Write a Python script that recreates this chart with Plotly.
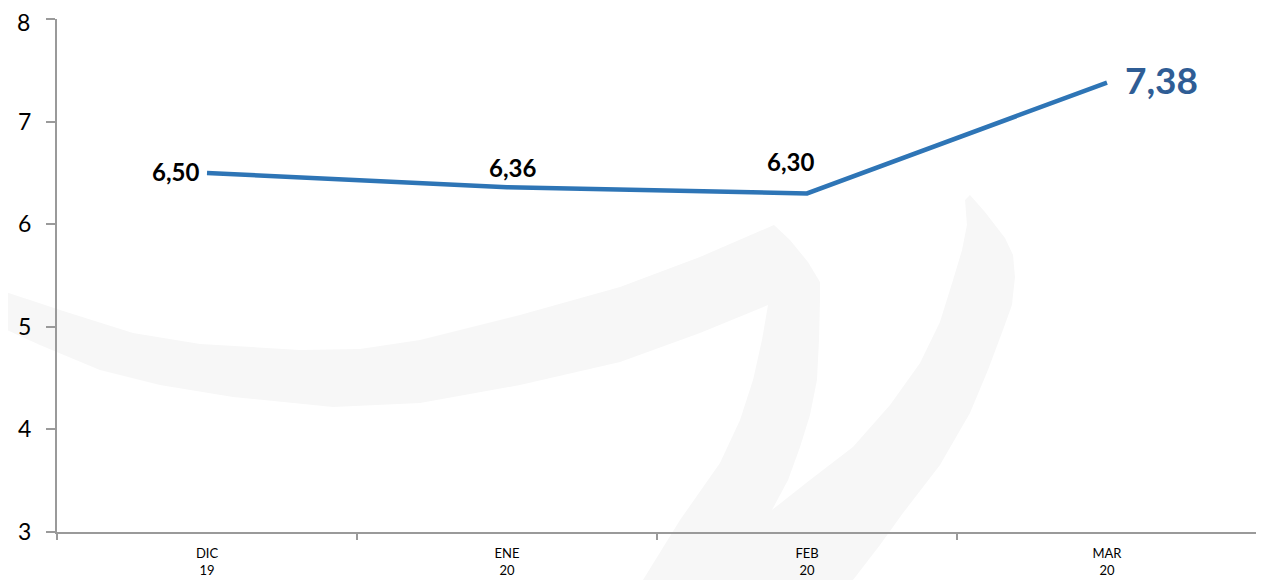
import plotly.graph_objects as go

# ---- data ----
months = ["DIC", "ENE", "FEB", "MAR"]
years = ["19", "20", "20", "20"]
values = [6.50, 6.36, 6.30, 7.38]
y_ticks = [3, 4, 5, 6, 7, 8]

categories = [f"{m}<br>{y}" for m, y in zip(months, years)]
labels = [f"{v:.2f}".replace(".", ",") for v in values]

# ---- styling ----
OFF = 8  # page body margin of the html
W, H = 1264 - OFF, 580 - OFF
ML, MR, MT, MB = 57 - OFF, 7, 19 - OFF, 48
LINE_COLOR = "#2e75b6"
FONT = "Lato"
TICK_SIZE = 23

# label placement per point (style only)
label_style = [
    dict(xanchor="right", yanchor="middle", xshift=-6, yshift=1, size=24, color="#000000"),
    dict(xanchor="center", yanchor="middle", xshift=5, yshift=20, size=24, color="#000000"),
    dict(xanchor="center", yanchor="middle", xshift=-17, yshift=32, size=24, color="#000000"),
    dict(xanchor="left", yanchor="middle", xshift=16, yshift=3, size=37, color="#2f5d95"),
]

fig = go.Figure()
fig.add_trace(go.Scatter(
    x=categories, y=values, mode="lines",
    line=dict(color=LINE_COLOR, width=4.5),
    hoverinfo="skip", showlegend=False,
))

for c, v, t, s in zip(categories, values, labels, label_style):
    fig.add_annotation(
        x=c, y=v, text=t, showarrow=False,
        xanchor=s["xanchor"], yanchor=s["yanchor"],
        xshift=s["xshift"], yshift=s["yshift"],
        font=dict(family=FONT, size=s["size"], color=s["color"], weight="bold"),
    )

# top y tick label drawn as annotation so it stays inside the page
fig.add_annotation(
    x=0, xref="paper", y=y_ticks[-1], yref="y", text=str(y_ticks[-1]),
    showarrow=False, xanchor="right", yanchor="top", xshift=-26, yshift=12,
    font=dict(family=FONT, size=TICK_SIZE, color="#000000"), borderpad=0,
)

# ---- faint background watermark (decorative, page-pixel outline -> paper coords) ----
pw, ph = W - ML - MR, H - MT - MB
def P(x, y):
    x -= OFF
    y -= OFF
    return f"{(x - ML) / pw:.4f},{(H - MB - y) / ph:.4f}"

outline = [
    (0, 290), (60, 310), (133, 333), (200, 344), (300, 350), (360, 349), (420, 340),
    (520, 315), (620, 287), (700, 257), (774, 225),
    (790, 240), (808, 262), (820, 282),
    (820, 300), (819, 340), (817, 380), (810, 415), (800, 447), (788, 480), (772, 510),
    (810, 480), (853, 447), (890, 405), (920, 363), (940, 322), (953, 280), (962, 250),
    (967, 225), (965, 200), (970, 195),
    (985, 212), (1005, 238), (1013, 255), (1015, 277), (1012, 305), (1003, 330), (988, 370),
    (970, 413), (940, 465), (903, 513), (880, 545), (853, 580),
    (643, 580),
    (680, 520), (720, 463), (740, 420), (753, 380), (762, 340), (768, 305),
    (700, 333), (620, 362), (520, 385), (420, 403), (333, 407), (233, 397),
    (160, 385), (100, 370), (40, 345), (0, 327),
]
path = "M " + " L ".join(P(x, y) for x, y in outline) + " Z"
fig.add_shape(type="path", path=path, xref="paper", yref="paper",
              fillcolor="#f7f7f7", line=dict(width=0), layer="below")

fig.update_layout(
    width=W, height=H,
    margin=dict(l=ML, r=MR, t=MT, b=MB, autoexpand=False),
    paper_bgcolor="white", plot_bgcolor="rgba(0,0,0,0)",
    font=dict(family=FONT, color="#000000"),
    showlegend=False,
)
fig.update_xaxes(
    type="category", range=[-0.5, len(categories) - 0.5],
    showgrid=False, zeroline=False,
    showline=True, linecolor="#9a9a9a", linewidth=2,
    ticks="outside", tickson="boundaries", ticklen=6, tickcolor="#9a9a9a", tickwidth=1.5,
    ticklabelstandoff=8, ticklabeloverflow="allow",
    tickfont=dict(size=13, color="#000000"),
)
fig.update_yaxes(
    range=[y_ticks[0], y_ticks[-1]],
    tickvals=y_ticks,
    ticktext=[str(t) for t in y_ticks[:-1]] + [""],
    showgrid=False, zeroline=False,
    showline=True, linecolor="#9a9a9a", linewidth=2,
    ticks="outside", ticklen=9, tickcolor="#9a9a9a", tickwidth=1.5,
    ticklabelstandoff=10, ticklabeloverflow="allow",
    tickfont=dict(size=TICK_SIZE, color="#000000"),
)

fig.write_html("out.html")
